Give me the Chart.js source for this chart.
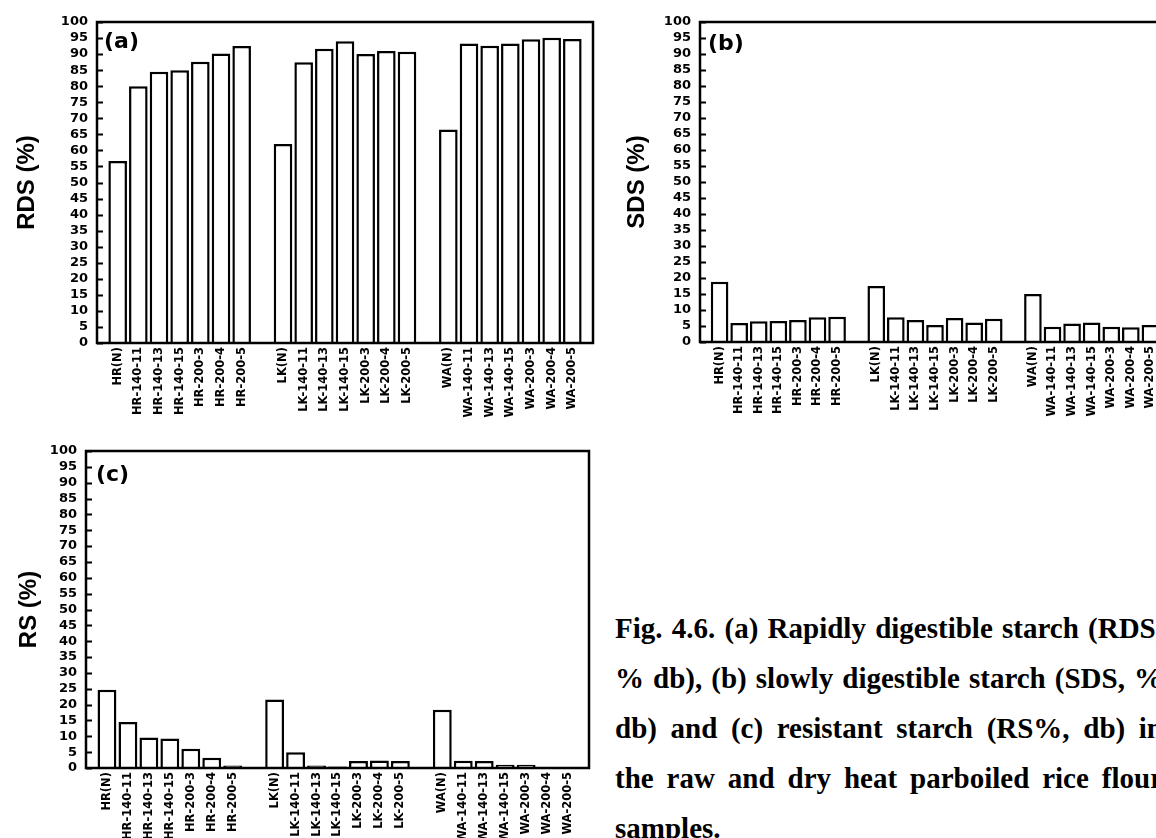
<!DOCTYPE html>
<html>
<head>
<meta charset="utf-8">
<script src="https://cdn.jsdelivr.net/npm/chart.js@4.4.0/dist/chart.umd.min.js"></script>
<style>
  html, body { margin: 0; padding: 0; width: 1156px; height: 838px; overflow: hidden; background: #fff; }
  .panel { position: absolute; }
  #caption {
    position: absolute; left: 615px; top: 603px; width: 548px;
    font: bold 29px "Liberation Serif", "Times New Roman", serif;
    line-height: 50px; text-align: justify; color: #000;
  }
</style>
</head>
<body>
<div class="panel" id="boxA"><canvas id="chartA"></canvas></div>
<div class="panel" id="boxB"><canvas id="chartB"></canvas></div>
<div class="panel" id="boxC"><canvas id="chartC"></canvas></div>
<div id="caption">Fig. 4.6. (a) Rapidly digestible starch (RDS, % db), (b) slowly digestible starch (SDS, % db) and (c) resistant starch (RS%, db) in the raw and dry heat parboiled rice flour samples.</div>

<script>
// sample names, three rice varieties, 7 samples each
const hrSamples = ['HR(N)', 'HR-140-11', 'HR-140-13', 'HR-140-15', 'HR-200-3', 'HR-200-4', 'HR-200-5'];
const lkSamples = ['LK(N)', 'LK-140-11', 'LK-140-13', 'LK-140-15', 'LK-200-3', 'LK-200-4', 'LK-200-5'];
const waSamples = ['WA(N)', 'WA-140-11', 'WA-140-13', 'WA-140-15', 'WA-200-3', 'WA-200-4', 'WA-200-5'];

// values (%, db), same order as the samples above
const rdsValues = [56.7, 80.0, 84.5, 85.0, 87.6, 90.2, 92.5,
                   62.0, 87.5, 91.7, 94.0, 90.0, 91.0, 90.7,
                   66.5, 93.3, 92.6, 93.3, 94.6, 95.1, 94.7];
const sdsValues = [18.8, 5.9, 6.5, 6.6, 6.9, 7.7, 7.9,
                   17.5, 7.7, 6.9, 5.3, 7.5, 6.1, 7.3,
                   15.0, 4.8, 5.8, 6.1, 4.8, 4.6, 5.3];
const rsValues  = [24.7, 14.5, 9.6, 9.3, 6.1, 3.2, 0.8,
                   21.6, 5.0, 0.8, 0.5, 2.2, 2.4, 2.2,
                   18.4, 2.3, 2.2, 1.0, 1.0, 0.3, 0.2];

const yTicks = { min: 0, max: 100, step: 5 };

// put an empty slot before, between and after the three groups
function withGaps(arr, blank) {
  return [blank, ...arr.slice(0, 7), blank, ...arr.slice(7, 14), blank, ...arr.slice(14, 21), blank];
}
const labels = withGaps([...hrSamples, ...lkSamples, ...waSamples], '');

// box around the plot, inward y tick marks and the panel letter
const framePlugin = {
  id: 'frame',
  afterDraw(chart, args, opts) {
    const { ctx, chartArea: a } = chart;
    const y = chart.scales.y;
    ctx.save();
    ctx.strokeStyle = '#000';
    ctx.lineWidth = 2;
    ctx.beginPath();
    y.ticks.forEach(t => {
      const py = Math.round(y.getPixelForValue(t.value)) + 0.5;
      ctx.moveTo(a.left, py);
      ctx.lineTo(a.left + 6, py);
    });
    ctx.stroke();
    ctx.lineWidth = 2.5;
    ctx.strokeRect(a.left, a.top, a.right - a.left, a.bottom - a.top);
    ctx.fillStyle = '#000';
    ctx.font = 'bold 22px "DejaVu Sans"';
    ctx.fillText(opts.letter, a.left + opts.dx, a.top + opts.dy);
    ctx.restore();
  }
};

function makePanel(p) {
  const box = document.getElementById(p.box);
  const plotW = p.right - p.left, plotH = p.bottom - p.top;
  const padTop = 22, padRight = 7, xH = 80;
  box.style.left = (p.left - p.yW) + 'px';
  box.style.top = (p.top - padTop) + 'px';
  box.style.width = (p.yW + plotW + padRight) + 'px';
  box.style.height = (padTop + plotH + xH) + 'px';

  new Chart(document.getElementById(p.canvas), {
    type: 'bar',
    data: {
      labels: labels,
      datasets: [{
        data: withGaps(p.values, null),
        backgroundColor: '#fff',
        borderColor: '#000',
        borderWidth: 2.5,
        barPercentage: 0.9,
        categoryPercentage: 1
      }]
    },
    options: {
      responsive: true,
      maintainAspectRatio: false,
      animation: false,
      layout: { padding: { top: padTop, right: padRight, left: 0, bottom: 0 } },
      plugins: {
        legend: { display: false },
        tooltip: { enabled: false },
        frame: { letter: p.letter, dx: p.dx, dy: p.dy }
      },
      scales: {
        x: {
          offset: false,
          grid: { display: false, drawTicks: false },
          border: { display: false },
          ticks: {
            autoSkip: false, minRotation: 90, maxRotation: 90, padding: 4,
            color: '#000', font: { family: 'DejaVu Sans', size: 11.5, weight: 'bold' }
          },
          afterFit: s => { s.height = xH; s.paddingLeft = 0; s.paddingRight = 0; }
        },
        y: {
          min: yTicks.min, max: yTicks.max,
          grid: { display: false, drawTicks: false },
          border: { display: false },
          ticks: {
            stepSize: yTicks.step, autoSkip: false, padding: 9, color: '#000',
            font: { family: 'DejaVu Sans', size: 13, weight: 'bold' }
          },
          title: {
            display: true, text: p.title, color: '#000',
            font: { family: 'Liberation Sans', size: 24, weight: 'bold' },
            padding: { top: p.titlePad, bottom: 0 }
          },
          afterFit: s => { s.width = p.yW; }
        }
      }
    },
    plugins: [framePlugin]
  });
}

makePanel({ box: 'boxA', canvas: 'chartA', values: rdsValues, title: 'RDS (%)', letter: '(a)',
  left: 97, top: 22, right: 593, bottom: 343, yW: 97, titlePad: 13, dx: 7, dy: 26 });
makePanel({ box: 'boxB', canvas: 'chartB', values: sdsValues, title: 'SDS (%)', letter: '(b)',
  left: 700, top: 22, right: 1170, bottom: 342, yW: 97, titlePad: 20, dx: 8, dy: 28 });
makePanel({ box: 'boxC', canvas: 'chartC', values: rsValues, title: 'RS (%)', letter: '(c)',
  left: 86, top: 451, right: 589, bottom: 768, yW: 86, titlePad: 15, dx: 10, dy: 30 });
</script>
</body>
</html>
